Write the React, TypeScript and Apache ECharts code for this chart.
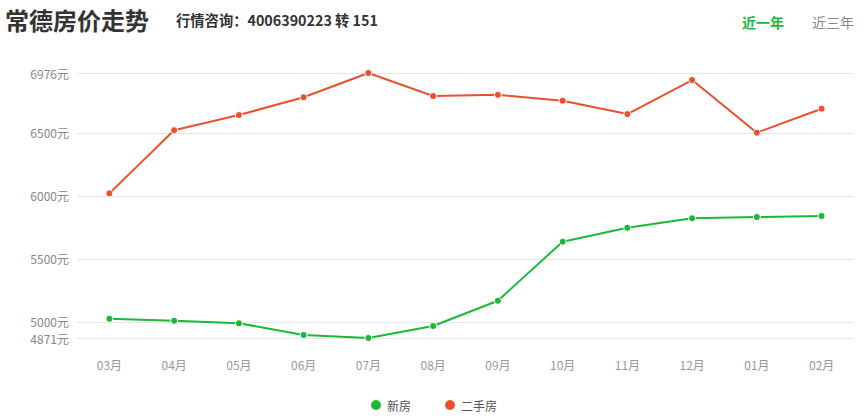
import React, { useEffect, useRef } from "react";
import * as echarts from "echarts";

const months = ["03月", "04月", "05月", "06月", "07月", "08月", "09月", "10月", "11月", "12月", "01月", "02月"];
const newHouse = [5024, 5008, 4988, 4895, 4871, 4966, 5167, 5636, 5747, 5822, 5832, 5840];
const secondHand = [6020, 6521, 6642, 6783, 6976, 6793, 6803, 6756, 6650, 6920, 6502, 6692];
const yTicks = [4871, 5000, 5500, 6000, 6500, 6976];
const yMin = 4871;
const yMax = 6976;

const CJK = '"Microsoft YaHei", "Noto Sans CJK SC", sans-serif';

export default function App() {
  const ref = useRef<HTMLDivElement>(null);
  useEffect(() => {
    if (!ref.current) return;
    const chart = echarts.init(ref.current, undefined, { renderer: "svg" });
    chart.setOption({
      animation: false,
      backgroundColor: "#fff",
      textStyle: { fontFamily: CJK },
      graphic: [
        { type: "text", left: 5, top: 7, style: { text: "常德房价走势", font: `bold 24px ${CJK}`, fill: "#333" } },
        { type: "text", left: 176, top: 12, style: { text: "行情咨询：4006390223 转 151", font: `bold 14.3px ${CJK}`, fill: "#333" } },
        { type: "text", left: 742, top: 15, style: { text: "近一年", font: `bold 14px ${CJK}`, fill: "#1bb83a" } },
        { type: "text", left: 812, top: 15, style: { text: "近三年", font: `14px ${CJK}`, fill: "#888" } },
      ],
      legend: {
        bottom: 1,
        left: "center",
        icon: "circle",
        itemWidth: 12,
        itemHeight: 12,
        itemGap: 32,
        textStyle: { color: "#555", fontSize: 12, fontFamily: CJK },
        data: ["新房", "二手房"],
      },
      grid: { left: 77, right: 12, top: 73, bottom: 80 },
      xAxis: {
        type: "category",
        data: months,
        boundaryGap: true,
        axisLine: { show: false },
        axisTick: { show: false },
        axisLabel: { color: "#999", fontSize: 12, margin: 20, fontFamily: CJK },
      },
      yAxis: {
        type: "value",
        min: yMin,
        max: yMax,
        axisLine: { show: false },
        axisTick: { show: false, customValues: yTicks },
        axisLabel: {
          color: "#888",
          fontSize: 12,
          margin: 8,
          customValues: yTicks,
          formatter: (v: number) => v + "元",
          fontFamily: CJK,
        },
        splitLine: { show: true, lineStyle: { color: "#e6e6e6", width: 1 } },
      },
      series: [
        {
          name: "新房",
          type: "line",
          data: newHouse,
          symbol: "circle",
          symbolSize: 7,
          color: "#1bb83a",
          lineStyle: { width: 2, color: "#1bb83a" },
          itemStyle: { color: "#1bb83a", borderColor: "#fff", borderWidth: 1 },
        },
        {
          name: "二手房",
          type: "line",
          data: secondHand,
          symbol: "circle",
          symbolSize: 7,
          color: "#ec4f2e",
          lineStyle: { width: 2, color: "#ec4f2e" },
          itemStyle: { color: "#ec4f2e", borderColor: "#fff", borderWidth: 1 },
        },
      ],
    });
    return () => chart.dispose();
  }, []);
  return <div ref={ref} style={{ position: "fixed", left: 0, top: 0, width: 866, height: 418 }} />;
}
